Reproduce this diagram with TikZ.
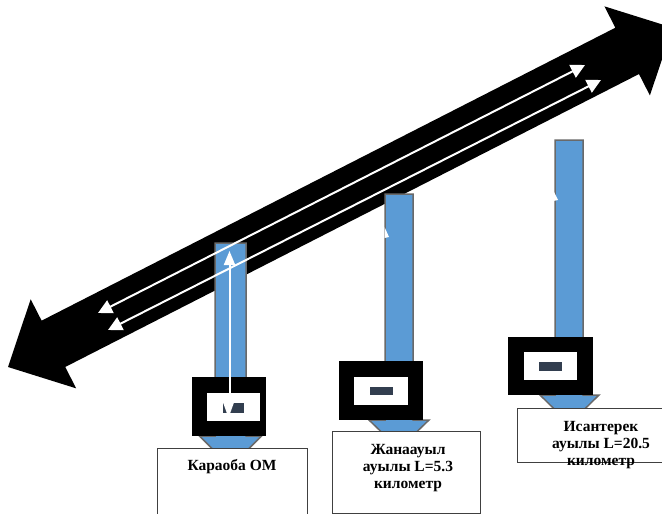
\documentclass[tikz,border=0pt]{standalone}
\usepackage{fontspec}
\setmainfont{Liberation Serif}[BoldFont={Liberation Serif Bold}]
\usetikzlibrary{arrows.meta}
\definecolor{colblue}{RGB}{91,155,213}
\definecolor{colgray}{RGB}{105,105,105}
\definecolor{darkslate}{RGB}{50,62,79}
\begin{document}
\begin{tikzpicture}[x=1pt,y=-1pt,
  bigarrow/.style={fill=black},
  colarrow/.style={fill=colblue, draw=colgray, line width=1.5pt, line join=miter},
  wline/.style={draw=white, line width=2pt, {Triangle[length=14pt,width=14pt]}-{Triangle[length=14pt,width=14pt]}},
  wup/.style={draw=white, line width=2pt, -{Triangle[length=14pt,width=11pt]}},
  meterbox/.style={fill=black},
  screen/.style={fill=white},
  dial/.style={fill=darkslate},
  labelbox/.style={draw=black!75, line width=1pt, fill=white},
  labeltext/.style={font=\fontsize{15.5}{17}\selectfont\bfseries, align=center, inner sep=0pt}]
\useasboundingbox (0,0) rectangle (662,514);
\clip (0,0) rectangle (662,514);

% big double arrow
\path[bigarrow] (8,367) -- (30.69,299.27) -- (41.61,320.65) -- (615.35,27.73)
  -- (604.43,6.35) -- (672.6,27.7) -- (649.91,95.43) -- (638.99,74.05)
  -- (65.25,366.97) -- (76.17,388.35) -- cycle;

% blue columns (down arrows)
\path[colarrow] (215,243) -- (246,243) -- (246,436) -- (261.5,436) -- (230.5,467)
  -- (199.5,436) -- (215,436) -- cycle;
\path[colarrow] (385,194) -- (413,194) -- (413,420) -- (429,420) -- (399,449)
  -- (369,420) -- (385,420) -- cycle;
\path[colarrow] (555,140) -- (583,140) -- (583,395) -- (599,395) -- (569.5,424)
  -- (540,395) -- (555,395) -- cycle;

% white lines on the big arrow
\coordinate (u1) at (98,313);
\coordinate (u2) at (585,65);
\coordinate (v1) at (108,330);
\coordinate (v2) at (601,80);
\draw[wline] (u1) -- (u2);
\draw[wline] (v1) -- (v2);

% small white notches
\fill[white] (384.5,227) -- (389,237) -- (384.5,238) -- cycle;
\fill[white] (553,190) -- (558,200) -- (553,201) -- cycle;

% meter boxes
\path[meterbox] (192,377) rectangle (266,436);
\path[screen] (207,393) rectangle (260,421);
\path[dial] (223,403) rectangle (244,413);
\fill[white] (223,402.5) -- (234,402.5) -- (230,413.5) -- (227,413.5) -- cycle;

\path[meterbox] (339,361) rectangle (423,420);
\path[screen] (354,377) rectangle (408,405);
\path[dial] (370,387) rectangle (393,395);

\path[meterbox] (508,337) rectangle (593,395);
\path[screen] (524,352) rectangle (577,380);
\path[dial] (539,362) rectangle (562,371);

% white vertical arrow in first column
\coordinate (w1) at (229.5,393);
\coordinate (w2) at (229.5,251);
\draw[wup] (w1) -- (w2);

% label boxes
\path[labelbox] (157,448) rectangle (307,530);
\path[labelbox] (332,431) rectangle (480,513);
\path[labelbox] (517,408) rectangle (683,462);

\node[labeltext] (lbl1) at (232,467) {Караоба ОМ};
\node[labeltext] (lbl2) at (408,468) {Жанаауыл\\ауылы L=5.3\\километр};
\node[labeltext] (lbl3) at (601,445) {Исантерек\\ауылы L=20.5\\километр};
\end{tikzpicture}
\end{document}
